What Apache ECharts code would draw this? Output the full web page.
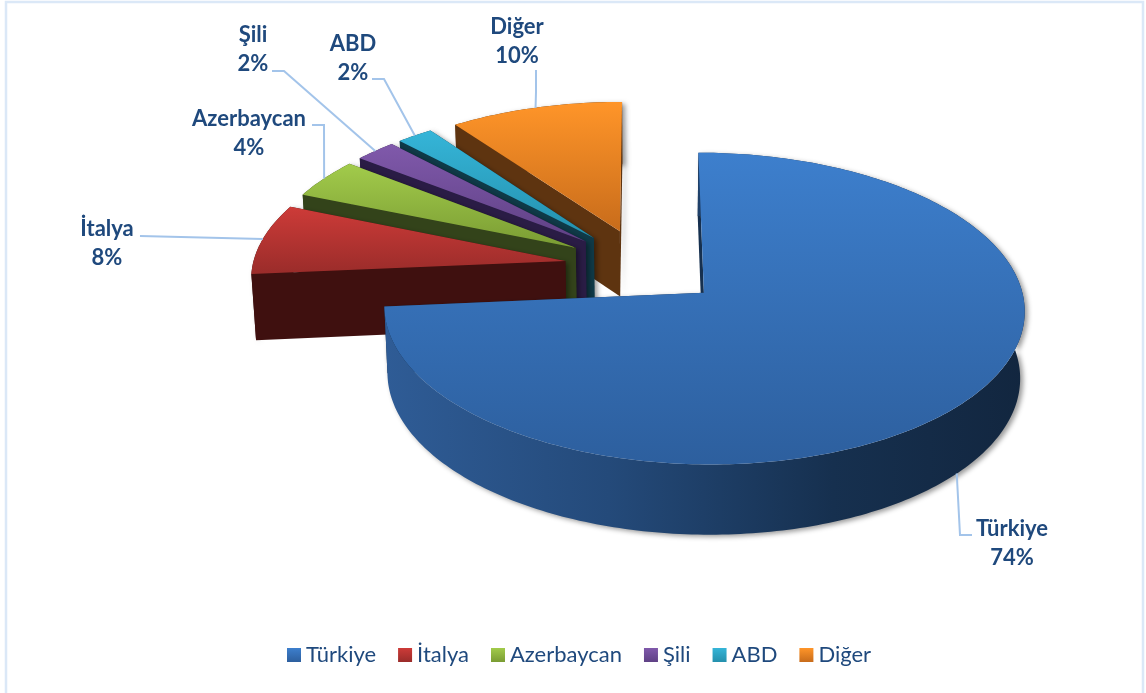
<!DOCTYPE html>
<html>
<head>
<meta charset="utf-8">
<style>
  html, body { margin: 0; padding: 0; background: #fff; }
  #main { width: 1146px; height: 693px; }
</style>
<script src="https://cdn.jsdelivr.net/npm/echarts@6/dist/echarts.min.js"></script>
</head>
<body>
<div id="main"></div>
<script>
var categories = ['Türkiye', 'İtalya', 'Azerbaycan', 'Şili', 'ABD', 'Diğer'];
var shares = [73.6, 7.6, 4.3, 2.4, 2.1, 10];

// face colours per slice: top of gradient, bottom of gradient, cut wall
var topLight = ['#3d7fcd', '#cd3b38', '#a2cb4b', '#8059ab', '#35b5d8', '#ff9529'];
var topDark = ['#2d5f9e', '#9a2c2a', '#7a9c33', '#5f4185', '#2490ad', '#c86c1b'];
var wallDark = ['#16304f', '#3f100f', '#33431a', '#2a1c45', '#0f3a48', '#5e3410'];

// leader line elbow, leader line end and label centre, in pixels
var leaderElbow = [[960, 535], [140, 236], [324, 125], [284, 71], [384, 79], [536, 92]];
var leaderEnd = [[972, 535], [140, 236], [312, 125], [272, 71], [372, 79], [536, 70]];
var labelCentre = [[1012, 543], [107, 243], [249, 133], [253, 49], [353, 58], [517, 41]];

var total = shares.reduce(function (a, b) { return a + b; }, 0);

// pie plane -> screen, a small perspective with the far side shrinking
var cx = 644, cy = 266.6, radiusX = 313, radiusY = 149, depth = 66;
var persp = 0.1, explode = 0.255;

function rad(deg) { return deg * Math.PI / 180; }

function project(u, v, z) {
  var s = 1 / (1 + persp * v);
  return [cx + radiusX * u * s * (1 - 0.012 * z), cy - radiusY * v * s + depth * z * Math.sqrt(s)];
}

function rimPoint(mid, ang, r, z) {
  return project(
    explode * Math.sin(rad(mid)) + r * Math.sin(rad(ang)),
    explode * Math.cos(rad(mid)) + r * Math.cos(rad(ang)),
    z
  );
}

function arcPoints(mid, a0, a1, z) {
  var pts = [];
  var n = Math.max(2, Math.ceil(a1 - a0));
  for (var i = 0; i <= n; i++) pts.push(rimPoint(mid, a0 + (a1 - a0) * i / n, 1, z));
  return pts;
}

function vGrad(c0, c1) {
  return { type: 'linear', x: 0, y: 0, x2: 0, y2: 1, colorStops: [{ offset: 0, color: c0 }, { offset: 1, color: c1 }] };
}

var turkeyWall = { type: 'linear', x: 0, y: 0, x2: 1, y2: 0, colorStops: [
  { offset: 0, color: '#2f5c96' }, { offset: 0.35, color: '#244a7a' },
  { offset: 0.7, color: '#16304f' }, { offset: 1, color: '#12263f' }
] };

var wallShadow = { shadowBlur: 5, shadowOffsetX: 3, shadowOffsetY: 2, shadowColor: 'rgba(0,0,0,0.4)' };

function sliceItem(params, api) {
  var i = params.seriesIndex;
  var before = 0;
  for (var k = 0; k < i; k++) before += shares[k];
  var a0 = before / total * 360;
  var a1 = a0 + api.value(0) / total * 360;
  var mid = (a0 + a1) / 2;

  var apexTop = rimPoint(mid, 0, 0, 0);
  var apexBot = rimPoint(mid, 0, 0, 1);
  var rimTop = arcPoints(mid, a0, a1, 0);
  var rimBot = arcPoints(mid, a0, a1, 1);
  var last = rimTop.length - 1;

  function poly(points, fill, extra) {
    var style = Object.assign({ fill: fill, stroke: null }, extra || {});
    return { type: 'polygon', shape: { points: points }, style: style };
  }

  var rimWall = poly(rimTop.concat(rimBot.slice().reverse()), i === 0 ? turkeyWall : wallDark[i], wallShadow);
  var cuts = [
    poly([rimTop[last], apexTop, apexBot, rimBot[last]], wallDark[i], wallShadow),
    poly([rimTop[0], apexTop, apexBot, rimBot[0]], wallDark[i])
  ];
  // the big slice shows its rim in front, the small ones show their cut in front
  var walls = i === 0 ? cuts.concat([rimWall]) : [rimWall].concat(cuts);

  var anchor = i === 0 ? rimPoint(mid, mid, 1, 1) : rimPoint(mid, mid, 1, 0);

  return {
    type: 'group',
    children: walls.concat([
      poly([apexTop].concat(rimTop), vGrad(topLight[i], topDark[i])),
      {
        type: 'polyline',
        shape: { points: [anchor, leaderElbow[i], leaderEnd[i]] },
        style: { stroke: '#a3c4ea', lineWidth: 2, fill: null }
      },
      {
        type: 'text',
        style: {
          x: labelCentre[i][0],
          y: labelCentre[i][1],
          text: categories[i] + '\n' + Math.round(api.value(0) / total * 100) + '%',
          fill: '#1f497d',
          font: 'bold 22px Lato',
          lineHeight: 29,
          align: 'center',
          verticalAlign: 'middle'
        }
      }
    ])
  };
}

var chart = echarts.init(document.getElementById('main'));

chart.setOption({
  backgroundColor: '#ffffff',
  animation: false,
  graphic: [{
    type: 'rect',
    silent: true,
    z: 0,
    shape: { x: 6, y: 2, width: 1137, height: 700 },
    style: { fill: null, stroke: '#dbe8f7', lineWidth: 2.5 }
  }],
  legend: {
    left: 282,
    top: 639,
    itemWidth: 14,
    itemHeight: 14,
    itemGap: 22,
    icon: 'rect',
    textStyle: { color: '#1f497d', fontFamily: 'Lato', fontSize: 22 },
    data: categories.map(function (name, i) {
      return { name: name, itemStyle: { color: vGrad(topLight[i], topDark[i]) } };
    })
  },
  series: categories.map(function (name, i) {
    return {
      type: 'custom',
      name: name,
      coordinateSystem: 'none',
      z: 10 - i,
      itemStyle: { color: topLight[i] },
      renderItem: sliceItem,
      data: [[shares[i]]]
    };
  })
});
</script>
</body>
</html>
